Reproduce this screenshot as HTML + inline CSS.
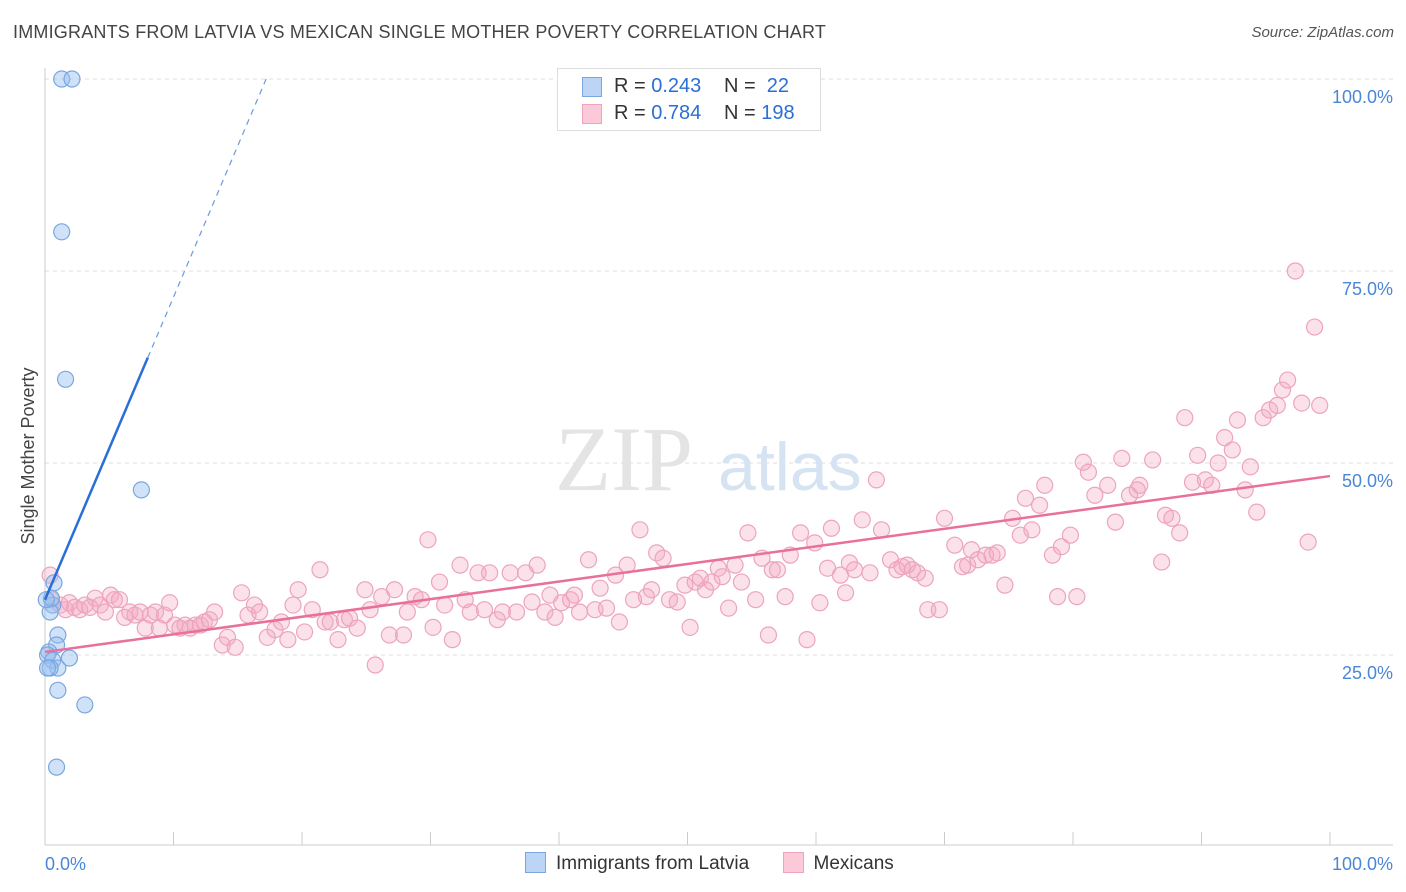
<!DOCTYPE html>
<html><head><meta charset="utf-8"><style>
body{margin:0;background:#fff;font-family:"Liberation Sans",sans-serif;}
#c{position:relative;width:1406px;height:892px;overflow:hidden}
</style></head><body><div id="c">
<div style="position:absolute;left:13px;top:22px;font-size:18px;color:#444;letter-spacing:0.2px">IMMIGRANTS FROM LATVIA VS MEXICAN SINGLE MOTHER POVERTY CORRELATION CHART</div>
<div style="position:absolute;right:12px;top:24px;font-size:15px;color:#555;font-style:italic">Source: ZipAtlas.com</div>
<svg id="s" width="1406" height="892" style="position:absolute;left:0;top:0"></svg>
</div>
<script>
const blueX=[1.3,2.1,1.3,1.6,7.5,0.7,0.6,0.4,1.0,0.9,0.3,0.2,1.9,0.6,1.0,0.4,1.0,3.1,0.9,0.5,0.1,0.2];
const blueY=[100,100,80.1,60.9,46.5,34.4,31.5,30.6,27.6,26.3,25.4,25.0,24.6,24.3,23.3,23.3,20.4,18.5,10.4,32.4,32.2,23.3];
const pinkX=[0.4,0.5,1.2,1.6,1.9,2.3,2.7,3.1,3.5,3.9,4.3,4.7,5.1,5.4,5.8,6.2,6.6,7.0,7.4,7.8,8.2,8.6,8.9,9.3,9.7,10.1,10.5,10.9,11.3,11.7,12.1,12.4,12.8,13.2,13.8,14.2,14.8,15.3,15.8,16.3,16.7,17.3,17.9,18.4,18.9,19.3,19.7,20.2,20.8,21.4,21.8,22.2,22.8,23.3,23.7,24.3,24.9,25.3,25.7,26.2,26.8,27.2,27.9,28.2,28.8,29.3,29.8,30.2,30.7,31.1,31.7,32.3,32.7,33.1,33.7,34.2,34.6,35.2,35.6,36.2,36.7,37.4,37.9,38.3,38.9,39.3,39.7,40.2,40.9,41.2,41.6,42.3,42.8,43.2,43.7,44.4,44.7,45.3,45.8,46.3,46.8,47.2,47.6,48.1,48.6,49.2,49.8,50.2,50.6,51.0,51.4,51.9,52.4,52.7,53.2,53.7,54.2,54.7,55.3,55.8,56.3,56.6,57.0,57.6,58.0,58.8,59.3,59.9,60.3,60.9,61.2,61.9,62.3,62.6,63.0,63.6,64.2,64.7,65.1,65.8,66.3,66.7,67.1,67.5,67.9,68.5,68.7,69.6,70.0,70.8,71.4,71.8,72.1,72.6,73.2,73.7,74.1,74.7,75.3,75.9,76.3,76.8,77.4,77.8,78.4,78.8,79.1,79.8,80.3,80.8,81.2,81.7,82.7,83.3,83.8,84.4,85.0,85.2,86.2,86.9,87.2,87.7,88.3,88.7,89.3,89.7,90.3,90.8,91.3,91.8,92.4,92.8,93.4,93.8,94.3,94.8,95.3,95.9,96.3,96.7,97.3,97.8,98.3,98.8,99.2];
const pinkY=[35.4,32.2,31.5,30.9,31.8,31.2,30.9,31.5,31.2,32.4,31.5,30.6,32.8,32.2,32.2,29.9,30.6,30.2,30.6,28.5,30.2,30.6,28.5,30.2,31.8,28.9,28.5,28.9,28.5,28.9,28.9,29.3,29.6,30.6,26.3,27.3,26.0,33.1,30.2,31.5,30.6,27.3,28.3,29.3,27.0,31.5,33.5,28.0,30.9,36.1,29.3,29.3,27.0,29.6,29.8,28.5,33.5,30.9,23.7,32.6,27.6,33.5,27.6,30.6,32.6,32.2,40.0,28.6,34.5,31.5,27.0,36.7,32.2,30.6,35.7,30.9,35.7,29.6,30.6,35.7,30.6,35.7,31.9,36.7,30.6,32.8,29.9,31.8,32.2,32.8,30.6,37.4,30.9,33.7,31.1,35.4,29.3,36.7,32.2,41.3,32.6,33.5,38.3,37.6,32.2,31.9,34.1,28.6,34.5,35.0,33.5,34.5,36.3,35.2,31.1,36.7,34.5,40.9,32.2,37.6,27.6,36.1,36.1,32.6,38.0,40.9,27.0,39.6,31.8,36.3,41.5,35.4,33.1,37.0,36.1,42.6,35.7,47.8,41.3,37.4,36.1,36.5,36.7,36.1,35.7,35.0,30.9,30.9,42.8,39.3,36.5,36.7,38.7,37.4,38.0,38.0,38.3,34.1,42.8,40.6,45.4,41.3,44.5,47.1,38.0,32.6,39.1,40.6,32.6,50.1,48.8,45.8,47.1,42.3,50.6,45.8,46.5,47.1,50.4,37.1,43.2,42.8,40.9,55.9,47.5,51.0,47.8,47.1,50.0,53.3,51.7,55.6,46.5,49.5,43.6,55.9,56.9,57.5,59.5,60.8,75.0,57.8,39.7,67.7,57.5];
const yTicks=[100,75,50,25];
const yTickLabels=["100.0%","75.0%","50.0%","25.0%"];
const blueTrend=[32.2,3.94];   // intercept, slope
const pinkTrend=[25.4,0.229];

const NS="http://www.w3.org/2000/svg";
const svg=document.getElementById('s');
const X0=45,X1=1330,Y0=847,Y100=79;
const sx=v=>X0+(X1-X0)*v/100;
const sy=v=>Y0-(Y0-Y100)*v/100;
function mk(t,a,p){const e=document.createElementNS(NS,t);for(const k in a)e.setAttribute(k,a[k]);(p||svg).appendChild(e);return e;}

// grid
yTicks.forEach((t,i)=>{
  const g=mk('line',{x1:45,x2:1393,y1:sy(t),y2:sy(t),stroke:'#ddd','stroke-dasharray':'4 4'});
  
  
  const l=mk('text',{x:1393,y:sy(t)+24,'text-anchor':'end','font-size':18,fill:'#4a86d8','font-family':'Liberation Sans, sans-serif'});
  l.textContent=yTickLabels[i];
  
  
});
// axes
const ax=mk('line',{x1:45,x2:45,y1:68,y2:845,stroke:'#ccc'});


const bx=mk('line',{x1:45,x2:1393,y1:845,y2:845,stroke:'#ccc'});


for(let i=0;i<=10;i++){
  const t=mk('line',{x1:sx(i*10),x2:sx(i*10),y1:832,y2:845,stroke:'#ccc'});
  
  
}
[[0,'0.0%','start',45],[100,'100.0%','end',1393]].forEach(d=>{
  const l=mk('text',{x:d[3],y:870,'text-anchor':d[2],'font-size':18,fill:'#4a86d8','font-family':'Liberation Sans, sans-serif'});
  l.textContent=d[1];
  
  
});
// watermark
const wm=mk('text',{x:555,y:490,'font-size':92,fill:'#e4e4e4','font-family':'Liberation Serif, serif'});
wm.textContent='ZIP';


const wm2=mk('text',{x:718,y:490,'font-size':68,fill:'#d6e3f3','font-family':'Liberation Sans, sans-serif'});
wm2.textContent='atlas';


// y-axis title
const yt=mk('text',{x:0,y:0,transform:'translate(34,456) rotate(-90)','text-anchor':'middle','font-size':18,fill:'#444','font-family':'Liberation Sans, sans-serif'});
yt.textContent='Single Mother Poverty';


// points
pinkX.forEach((x,i)=>{
  const c=mk('circle',{cx:sx(x),cy:sy(pinkY[i]),r:8,fill:'rgba(244,170,195,0.35)',stroke:'#eda4be','stroke-width':1.2});
  
  
});
blueX.forEach((x,i)=>{
  const c=mk('circle',{cx:sx(x),cy:sy(blueY[i]),r:8,fill:'rgba(150,190,240,0.45)',stroke:'#7aa7e0','stroke-width':1.2});
  
  
});
// trend lines
const pt=mk('line',{x1:sx(0),y1:sy(pinkTrend[0]),x2:sx(100),y2:sy(pinkTrend[0]+pinkTrend[1]*100),stroke:'#e8709a','stroke-width':2.5});


const bEnd=8.0, bTop=(100-blueTrend[0])/blueTrend[1];
const bt=mk('line',{x1:sx(0),y1:sy(blueTrend[0]),x2:sx(bEnd),y2:sy(blueTrend[0]+blueTrend[1]*bEnd),stroke:'#2a6fd6','stroke-width':2.5});


const bd=mk('line',{x1:sx(bEnd),y1:sy(blueTrend[0]+blueTrend[1]*bEnd),x2:sx(bTop),y2:sy(100),stroke:'#6a9be0','stroke-width':1.2,'stroke-dasharray':'6 5'});


</script>
<div style="position:absolute;left:557px;top:68px;width:262px;height:61px;border:1px solid #ddd;background:#fff;font-size:20px;color:#333">
 <div style="position:absolute;left:26px;top:6px;white-space:pre"><span style="display:inline-block;width:18px;height:18px;background:#bcd4f5;border:1px solid #7aa7e0;vertical-align:-3px;position:absolute;left:-2px;top:2px"></span><span style="position:absolute;left:30px">R = <span style="color:#2a6fd6">0.243</span></span><span style="position:absolute;left:140px">N = <span style="color:#2a6fd6"> 22</span></span></div>
 <div style="position:absolute;left:26px;top:33px;white-space:pre"><span style="display:inline-block;width:18px;height:18px;background:#fbc9d8;border:1px solid #eda4be;position:absolute;left:-2px;top:2px"></span><span style="position:absolute;left:30px">R = <span style="color:#2a6fd6">0.784</span></span><span style="position:absolute;left:140px">N = <span style="color:#2a6fd6">198</span></span></div>
</div>
<div style="position:absolute;top:852px;left:525px;font-size:19px;color:#333;white-space:nowrap">
 <span><span style="display:inline-block;width:19px;height:19px;background:#bcd4f5;border:1px solid #7aa7e0;vertical-align:-4px;margin-right:10px"></span>Immigrants from Latvia</span>
 <span style="margin-left:28px"><span style="display:inline-block;width:19px;height:19px;background:#fbc9d8;border:1px solid #eda4be;vertical-align:-4px;margin-right:10px"></span>Mexicans</span>
</div>
</body></html>
